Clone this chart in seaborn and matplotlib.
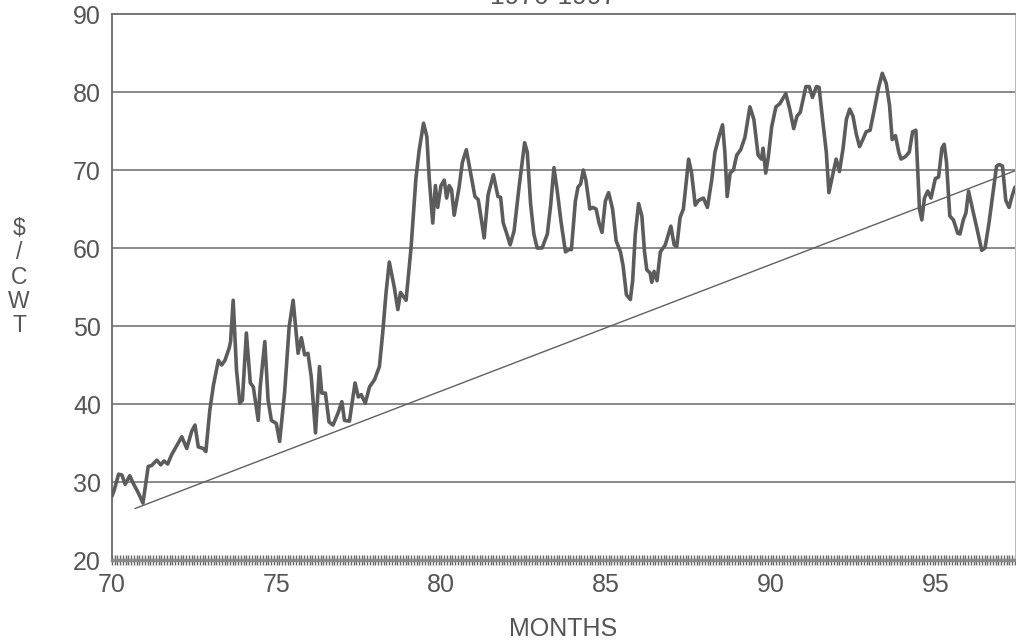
import matplotlib
matplotlib.use("Agg")
import matplotlib.pyplot as plt
import seaborn as sns
import numpy as np
from matplotlib.ticker import MultipleLocator

sns.set_theme(style="white")
plt.rcParams['font.family'] = ['Liberation Sans', 'DejaVu Sans']

# ---- data ----
years = [
    70.0, 70.07, 70.2, 70.3, 70.4, 70.54, 70.66, 70.8, 70.94, 71.1, 71.2, 71.36, 71.48,
    71.58, 71.69, 71.81, 71.97, 72.12, 72.27, 72.42, 72.52, 72.62, 72.77, 72.85,
    72.97, 73.08, 73.23, 73.33, 73.43, 73.56, 73.6, 73.68, 73.78, 73.88, 73.96,
    74.08, 74.2, 74.29, 74.44, 74.5, 74.64, 74.74, 74.84, 74.99, 75.09, 75.24,
    75.38, 75.5, 75.65, 75.75, 75.85, 75.95, 76.05, 76.18, 76.3, 76.37, 76.48,
    76.59, 76.71, 76.86, 76.98, 77.06, 77.21, 77.38, 77.48, 77.57, 77.69, 77.82,
    77.97, 78.12, 78.22, 78.32, 78.42, 78.57, 78.68, 78.76, 78.93, 79.08, 79.23,
    79.33, 79.46, 79.56, 79.63, 79.74, 79.82, 79.89, 79.99, 80.09, 80.16, 80.24,
    80.31, 80.39, 80.54, 80.64, 80.76, 80.89, 81.02, 81.12, 81.2, 81.3, 81.42,
    81.58, 81.72, 81.8, 81.88, 81.99, 82.09, 82.21, 82.36, 82.53, 82.61, 82.71,
    82.81, 82.91, 83.06, 83.22, 83.32, 83.42, 83.52, 83.64, 83.77, 83.87, 83.95,
    84.07, 84.15, 84.23, 84.31, 84.39, 84.51, 84.6, 84.7, 84.79, 84.88, 84.98,
    85.08, 85.2, 85.31, 85.44, 85.52, 85.62, 85.74, 85.81, 85.89, 85.99, 86.09,
    86.17, 86.24, 86.34, 86.39, 86.46, 86.55, 86.65, 86.8, 86.97, 87.07, 87.15,
    87.25, 87.35, 87.43, 87.51, 87.6, 87.71, 87.81, 87.96, 88.08, 88.21, 88.31,
    88.44, 88.54, 88.61, 88.68, 88.77, 88.87, 88.97, 89.09, 89.22, 89.37, 89.49,
    89.62, 89.72, 89.77, 89.85, 89.93, 90.03, 90.16, 90.28, 90.46, 90.58, 90.7,
    90.8, 90.9, 91.07, 91.17, 91.27, 91.39, 91.47, 91.59, 91.69, 91.77, 91.87,
    91.99, 92.09, 92.2, 92.3, 92.4, 92.5, 92.6, 92.7, 92.8, 92.9, 93.02, 93.15,
    93.28, 93.39, 93.51, 93.61, 93.69, 93.79, 93.89, 93.96, 94.09, 94.21, 94.31,
    94.41, 94.52, 94.59, 94.67, 94.77, 94.87, 95.0, 95.1, 95.2, 95.27, 95.34,
    95.44, 95.55, 95.68, 95.75, 95.85, 95.93, 96.01, 96.13, 96.28, 96.41, 96.51,
    96.63, 96.76, 96.86, 96.94, 97.04, 97.14, 97.24, 97.34, 97.42,
]
prices = [
    28.2, 29.0, 31.0, 30.9, 29.7, 30.8, 29.7, 28.6, 27.3, 32.0, 32.1, 32.8, 32.2,
    32.7, 32.3, 33.5, 34.7, 35.8, 34.3, 36.5, 37.3, 34.5, 34.3, 33.9,
    39.2, 42.4, 45.6, 45.0, 45.6, 47.2, 48.0, 53.3, 44.4, 40.1, 40.5,
    49.1, 42.7, 42.2, 37.9, 42.2, 48.0, 40.5, 37.9, 37.5, 35.2, 41.4,
    49.9, 53.3, 46.5, 48.5, 46.3, 46.5, 43.5, 36.3, 44.8, 41.4, 41.4,
    37.7, 37.3, 38.8, 40.3, 37.9, 37.8, 42.7, 40.9, 41.2, 40.1, 42.2,
    43.1, 44.8, 49.1, 54.2, 58.2, 55.0, 52.1, 54.3, 53.3, 60.0, 69.0,
    72.6, 76.0, 74.3, 69.1, 63.2, 68.0, 65.2, 68.0, 68.7, 66.4, 68.0,
    67.5, 64.2, 67.8, 71.0, 72.6, 69.6, 66.6, 66.2, 64.1, 61.3, 66.8,
    69.4, 66.6, 66.5, 63.2, 61.8, 60.4, 62.2, 67.8, 73.5, 72.3, 65.7,
    61.8, 60.0, 60.0, 61.8, 65.5, 70.3, 67.3, 63.2, 59.5, 59.8, 59.8,
    66.0, 67.8, 68.2, 70.0, 68.7, 65.0, 65.2, 65.0, 63.2, 62.0, 66.0,
    67.1, 65.0, 60.9, 59.5, 57.7, 54.0, 53.4, 55.8, 61.8, 65.7, 64.1,
    59.5, 57.2, 56.8, 55.6, 57.0, 55.8, 59.5, 60.4, 62.8, 60.4, 60.2,
    63.9, 65.0, 68.2, 71.4, 69.6, 65.5, 66.1, 66.4, 65.2, 68.7, 72.3,
    74.4, 75.8, 72.3, 66.6, 69.6, 70.0, 71.9, 72.6, 74.2, 78.1, 76.5,
    71.9, 71.4, 72.8, 69.6, 71.7, 75.5, 78.1, 78.5, 79.8, 77.8, 75.3,
    76.9, 77.4, 80.7, 80.7, 79.3, 80.7, 80.6, 76.0, 72.3, 67.1, 69.1,
    71.4, 69.8, 72.8, 76.5, 77.8, 76.9, 74.6, 73.0, 73.9, 74.9, 75.1, 77.8,
    80.6, 82.4, 81.1, 78.3, 73.9, 74.4, 72.3, 71.4, 71.7, 72.3, 74.9,
    75.1, 65.0, 63.6, 66.4, 67.3, 66.4, 68.9, 69.1, 72.8, 73.3, 71.0,
    64.1, 63.6, 61.9, 61.8, 63.6, 64.5, 67.3, 65.0, 62.2, 59.7, 60.0,
    63.2, 67.3, 70.5, 70.7, 70.5, 66.1, 65.2, 66.8, 67.8,
]
trend_years = [70.7, 97.42]
trend_prices = [26.6, 69.9]

x_ticks = [70, 75, 80, 85, 90, 95]
y_ticks = [20, 30, 40, 50, 60, 70, 80, 90]

# ---- figure ----
fig = plt.figure(figsize=(10.16, 6.44), dpi=100)
ax = fig.add_axes([112 / 1016, 1 - 560 / 644, (1015 - 112) / 1016, (560 - 14) / 644])

grid_c = '#808080'
line_c = '#5c5c5c'
text_c = '#555555'

for yv in y_ticks[1:-1]:
    ax.axhline(yv, color=grid_c, lw=1.3, zorder=1)

sns.lineplot(x=years, y=prices, ax=ax, color=line_c, lw=2.6, estimator=None,
             sort=False, zorder=3)
sns.lineplot(x=trend_years, y=trend_prices, ax=ax, color='#606060', lw=1.0,
             estimator=None, sort=False, zorder=2)

ax.set_xlim(70, 97.42)
ax.set_ylim(20, 90)
ax.set_xticks(x_ticks)
ax.set_xticklabels([str(t) for t in x_ticks])
ax.set_yticks(y_ticks)
ax.set_yticklabels([str(t) for t in y_ticks])
ax.xaxis.set_minor_locator(MultipleLocator(1 / 12))

ax.tick_params(axis='x', which='both', bottom=True, direction='inout',
               length=7, width=1.0, color='#666666', labelsize=18,
               labelcolor=text_c, pad=6)
ax.tick_params(axis='y', which='both', left=False, length=0, labelsize=18,
               labelcolor=text_c, pad=8)

for side in ['left', 'top', 'right', 'bottom']:
    ax.spines[side].set_visible(True)
    ax.spines[side].set_color('#6a6a6a')
    ax.spines[side].set_linewidth(1.3)
ax.spines['right'].set_color('#bbbbbb')
ax.spines['right'].set_linewidth(0.8)
ax.spines['bottom'].set_linewidth(2.5)
ax.spines['bottom'].set_color('#8a8a8a')

ax.set_xlabel('MONTHS', fontsize=18, color=text_c, labelpad=14)
ax.set_ylabel('')

fig.text(19 / 1016, 1 - 277 / 644, '$\n/\nC\nW\nT', ha='center', va='center',
         fontsize=16.5, color=text_c, linespacing=1.08, parse_math=False)
fig.text(553 / 1016, 1 - 4 / 644, '1970-1997', ha='center', va='baseline',
         fontsize=19, color=text_c)

fig.savefig('out.png', dpi=100)
